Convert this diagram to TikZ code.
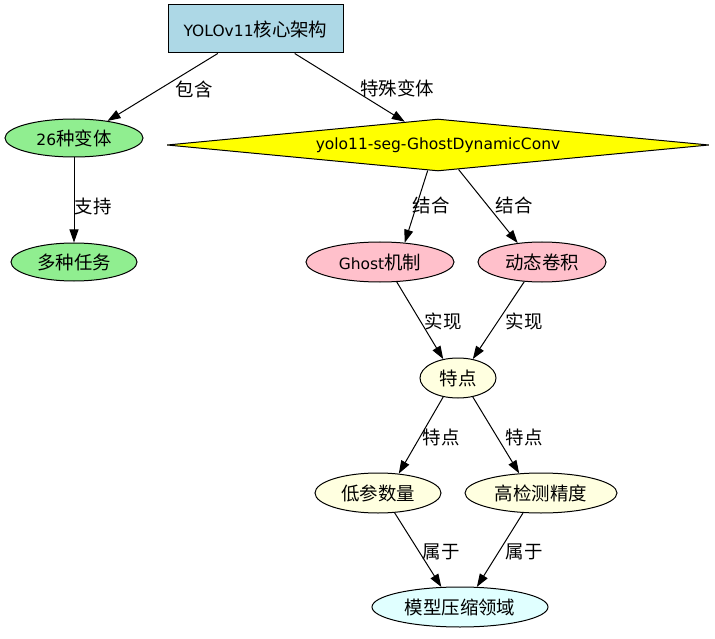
\documentclass[tikz,border=0pt]{standalone}
\usepackage{fontspec}
\setmainfont{DejaVu Sans}
\newfontfamily\cjk{Noto Sans CJK SC}[Scale=1.19]
\usetikzlibrary{shapes.geometric,arrows.meta}
\definecolor{cblue}{HTML}{ADD8E6}
\definecolor{cgreen}{HTML}{90EE90}
\definecolor{cyel}{HTML}{FFFF00}
\definecolor{cpink}{HTML}{FFC0CB}
\definecolor{clyel}{HTML}{FFFFE0}
\definecolor{ccyan}{HTML}{E0FFFF}
\begin{document}
\begin{tikzpicture}[x=1pt,y=-1pt,
  every node/.style={font=\fontsize{15.5}{19}\selectfont, inner sep=0pt},
  ell/.style={ellipse, draw, line width=1pt, minimum height=40pt},
  conn/.style={line width=1pt, -{Triangle[length=13pt,width=9pt]}}]
\useasboundingbox (0,0) rectangle (715,639);
% nodes
\node[draw, line width=1pt, fill=cblue, minimum width=175pt, minimum height=48pt] (top) at (255.5,29) {YOLOv11{\cjk 核心架构}};
\node[ell, fill=cgreen, minimum width=138pt, minimum height=38pt] (v26) at (74,138) {26{\cjk 种变体}};
\node[diamond, draw, line width=1pt, fill=cyel, aspect=10, minimum width=542pt, minimum height=52pt] (dia) at (438,145) {yolo11-seg-GhostDynamicConv};
\node[ell, fill=cgreen, minimum width=126pt, minimum height=38pt] (task) at (74,262) {\cjk 多种任务};
\node[ell, fill=cpink, minimum width=148pt] (ghost) at (380,262) {Ghost{\cjk 机制}};
\node[ell, fill=cpink, minimum width=128pt] (dyn) at (542,262) {\cjk 动态卷积};
\node[ell, fill=clyel, minimum width=76pt] (feat) at (458,378) {\cjk 特点};
\node[ell, fill=clyel, minimum width=126pt] (low) at (378,493) {\cjk 低参数量};
\node[ell, fill=clyel, minimum width=152pt] (high) at (541,493) {\cjk 高检测精度};
\node[ell, fill=ccyan, minimum width=176pt] (model) at (460,607) {\cjk 模型压缩领域};
% connectors
\draw[conn] (top.-147.4) -- (v26.27);
\draw[conn] (top.-32.6) -- (dia.145);
\draw[conn] (v26) -- (task);
\draw[conn] (dia.-112) -- (ghost.38);
\draw[conn] (dia.-50) -- (dyn.142);
\draw[conn] (ghost.-50) -- (feat.128);
\draw[conn] (dyn.-132) -- (feat.52);
\draw[conn] (feat.-128) -- (low.43);
\draw[conn] (feat.-52) -- (high.138);
\draw[conn] (low.-50) -- (model.133);
\draw[conn] (high.-132) -- (model.50);
% labels
\node (l1) at (194,89) {\cjk 包含};
\node (l2) at (397,88) {\cjk 特殊变体};
\node (l3) at (93,206) {\cjk 支持};
\node (l4) at (431,205) {\cjk 结合};
\node (l5) at (514,205) {\cjk 结合};
\node (l6) at (443,321) {\cjk 实现};
\node (l7) at (524,321) {\cjk 实现};
\node (l8) at (441,437) {\cjk 特点};
\node (l9) at (524,437) {\cjk 特点};
\node (l10) at (441,552) {\cjk 属于};
\node (l11) at (524,552) {\cjk 属于};
\end{tikzpicture}
\end{document}
